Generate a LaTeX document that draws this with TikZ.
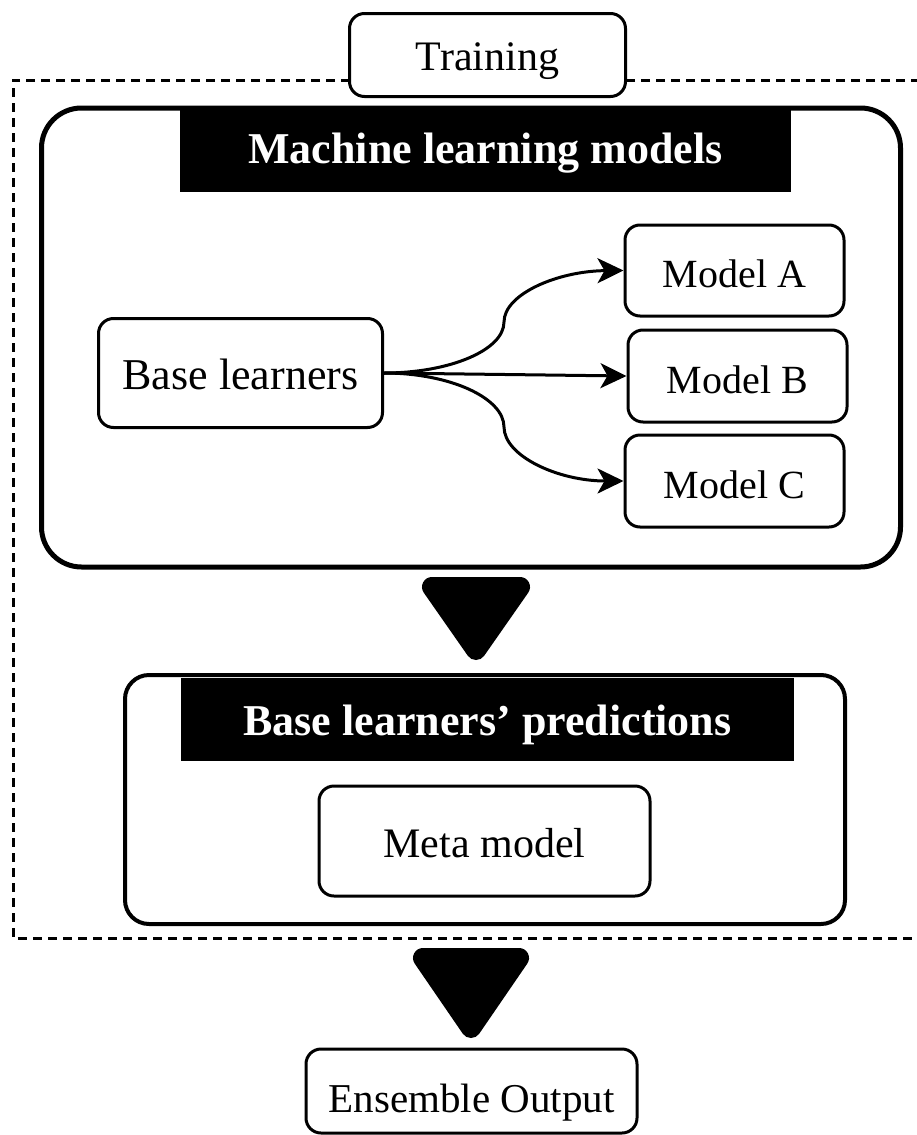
\documentclass[tikz,border=0pt]{standalone}
\usepackage{fontspec}
\setmainfont{Liberation Serif}
\usetikzlibrary{arrows.meta}
\tikzset{
  sbox/.style={draw, rounded corners=15pt, line width=3pt, fill=white, inner sep=0pt, align=center, text depth=0pt},
  bigbox/.style={draw, line width=5pt, inner sep=0pt},
  header/.style={fill=black, text=white, inner sep=0pt, text depth=0pt, font=\fontsize{44}{52}\selectfont\bfseries},
  arr/.style={line width=3pt, -{Stealth[length=26pt,width=25pt,inset=7pt]}},
  dashframe/.style={line width=3pt, dash pattern=on 9pt off 6pt},
  blockarrow/.style={fill=black, draw=black, line width=20pt, line join=round}
}
\begin{document}
\begin{tikzpicture}[x=1pt,y=-1pt]
\useasboundingbox (0,0) rectangle (917,1135);
% dashed training frame
\coordinate (dtr) at (935,80);
\coordinate (dtl) at (13,80);
\coordinate (dbl) at (13,938);
\coordinate (dbr) at (935,938);
\draw[dashframe] (dtr) -- (dtl) -- (dbl) -- (dbr);
\node[sbox, minimum width=276pt, minimum height=83pt, text height=30pt, font=\fontsize{42}{50}\selectfont] (train) at (487.5,55) {Training};
% machine learning models container
\node[bigbox, rounded corners=40pt, minimum width=859pt, minimum height=459pt] (mlbox) at (471,337.5) {};
\node[header, minimum width=611pt, minimum height=84pt, text height=26pt] (mlhead) at (485.5,150) {Machine learning models};
\node[sbox, minimum width=284pt, minimum height=109pt, text height=33pt, font=\fontsize{44}{52}\selectfont] (bl) at (240.5,373) {Base learners};
\node[sbox, minimum width=219pt, minimum height=91pt, text height=34pt, font=\fontsize{40}{48}\selectfont] (mA) at (734.5,270.5) {Model A};
\node[sbox, minimum width=219pt, minimum height=92pt, text height=34pt, font=\fontsize{40}{48}\selectfont] (mB) at (737.5,376) {Model B};
\node[sbox, minimum width=219pt, minimum height=92pt, text height=34pt, font=\fontsize{40}{48}\selectfont] (mC) at (734.5,481) {Model C};
\draw[arr] (bl.east) .. controls +(66,0) and (504,350) .. (504,322) .. controls (504,294) and (558,271) .. (mA.west);
\draw[arr] (bl.east) -- (mB.west);
\draw[arr] (bl.east) .. controls +(66,0) and (504,398) .. (504,427) .. controls (504,456) and (558,481) .. (mC.west);
% block arrow 1
\draw[blockarrow] (432,587) -- (520,587) -- (476,650) -- cycle;
% predictions container
\node[bigbox, line width=4pt, rounded corners=24pt, minimum width=720pt, minimum height=249pt] (pbox) at (485,799.5) {};
\node[header, minimum width=613pt, minimum height=83pt, text height=31pt] (phead) at (487.5,719.5) {Base learners’ predictions};
\node[sbox, minimum width=331pt, minimum height=110pt, text height=32pt, font=\fontsize{42}{50}\selectfont] (meta) at (484.5,841) {Meta model};
% block arrow 2
\draw[blockarrow] (423,958) -- (519,958) -- (471,1028) -- cycle;
\node[sbox, minimum width=331pt, minimum height=84pt, text height=42pt, font=\fontsize{41}{49}\selectfont] (ens) at (471.5,1091) {Ensemble Output};
\end{tikzpicture}
\end{document}
